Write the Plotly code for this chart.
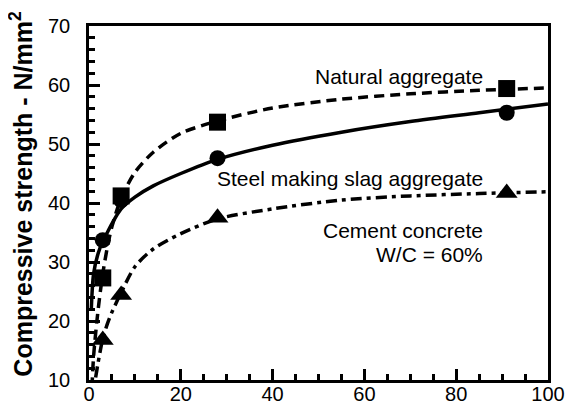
import plotly.graph_objects as go

# Measured points (age in days vs compressive strength N/mm^2)
days = [3, 7, 28, 91]
natural_pts = [27.3, 41.2, 53.7, 59.4]
slag_pts = [33.7, 40.5, 47.6, 55.3]
cement_pts = [16.8, 24.4, 37.5, 41.7]

# Fitted curves
curve_t = [0.5, 1, 2, 3, 4, 5, 7, 10, 14, 20, 28, 40, 55, 70, 85, 100]
natural_curve = [6, 14, 22, 28, 32.5, 36, 40.8, 45.2, 48.6, 51.8, 53.9, 56.1, 57.6, 58.5, 59.1, 59.5]
slag_curve = [22, 28, 31.5, 33.5, 35, 36.5, 39.0, 41.0, 42.9, 45.0, 47.4, 49.8, 52.0, 53.8, 55.3, 56.8]
cement_curve = [2, 8, 13, 17, 19.5, 21.5, 24.8, 29.2, 32.2, 34.8, 37.3, 39.0, 40.5, 41.2, 41.6, 41.9]

fig = go.Figure()

fig.add_trace(go.Scatter(x=curve_t, y=natural_curve, mode="lines",
                         line=dict(color="black", width=3.5, dash="10px,6px", shape="spline", smoothing=0.8),
                         showlegend=False, hoverinfo="skip"))
fig.add_trace(go.Scatter(x=curve_t, y=slag_curve, mode="lines",
                         line=dict(color="black", width=3.5, shape="spline", smoothing=0.8),
                         showlegend=False, hoverinfo="skip"))
fig.add_trace(go.Scatter(x=curve_t, y=cement_curve, mode="lines",
                         line=dict(color="black", width=3.5, dash="11px,5px,4px,5px", shape="spline", smoothing=0.8),
                         showlegend=False, hoverinfo="skip"))

fig.add_trace(go.Scatter(x=days, y=slag_pts, mode="markers",
                         marker=dict(symbol="circle", size=16, color="black"), showlegend=False))
fig.add_trace(go.Scatter(x=days, y=natural_pts, mode="markers",
                         marker=dict(symbol="square", size=17, color="black"), showlegend=False))
fig.add_trace(go.Scatter(x=days, y=cement_pts, mode="markers",
                         marker=dict(symbol="triangle-up", size=19, color="black"), showlegend=False))

font = "Liberation Sans, Arial, sans-serif"
ann = dict(showarrow=False, xanchor="right", yanchor="middle", xref="x", yref="y",
           font=dict(family=font, size=21, color="black"))
fig.add_annotation(x=86.3, y=61.4, text="Natural aggregate", **ann)
fig.add_annotation(x=86.3, y=44.2, text="Steel making slag aggregate", **ann)
fig.add_annotation(x=86.3, y=35.4, text="Cement concrete", **ann)
fig.add_annotation(x=86.3, y=31.2, text="W/C = 60%", **ann)

# y axis title as rotated text
fig.add_annotation(x=-0.147, y=0.525, xref="paper", yref="paper", showarrow=False,
                   textangle=-90, xanchor="center", yanchor="middle",
                   text="<b>Compressive strength - N/mm<sup>2</sup></b>",
                   font=dict(family=font, size=25, color="black"))

fig.update_xaxes(range=[0, 100], tick0=0, dtick=20, ticks="inside", ticklen=11, tickwidth=2.5,
                 tickcolor="black", showline=True, linewidth=2.5, linecolor="black", mirror=True,
                 showgrid=False, zeroline=False, automargin=False, ticklabelstandoff=-6,
                 minor=dict(dtick=5, ticks="inside", ticklen=6, tickwidth=2.5, tickcolor="black"),
                 tickfont=dict(family=font, size=20, color="black"))
fig.update_yaxes(range=[10, 70], tick0=10, dtick=10, ticks="inside", ticklen=11, tickwidth=2.5,
                 tickcolor="black", showline=True, linewidth=2.5, linecolor="black", mirror=True,
                 showgrid=False, zeroline=False, ticklabelstandoff=12, automargin=False,
                 minor=dict(dtick=2, ticks="inside", ticklen=6, tickwidth=2.5, tickcolor="black"),
                 tickfont=dict(family=font, size=20, color="black"))

# page body has an 8px margin, so the figure is sized to the remaining area
fig.update_layout(width=567, height=395, margin=dict(l=81, r=27, t=18, b=23),
                  plot_bgcolor="white", paper_bgcolor="white")

fig.write_html("out.html")
